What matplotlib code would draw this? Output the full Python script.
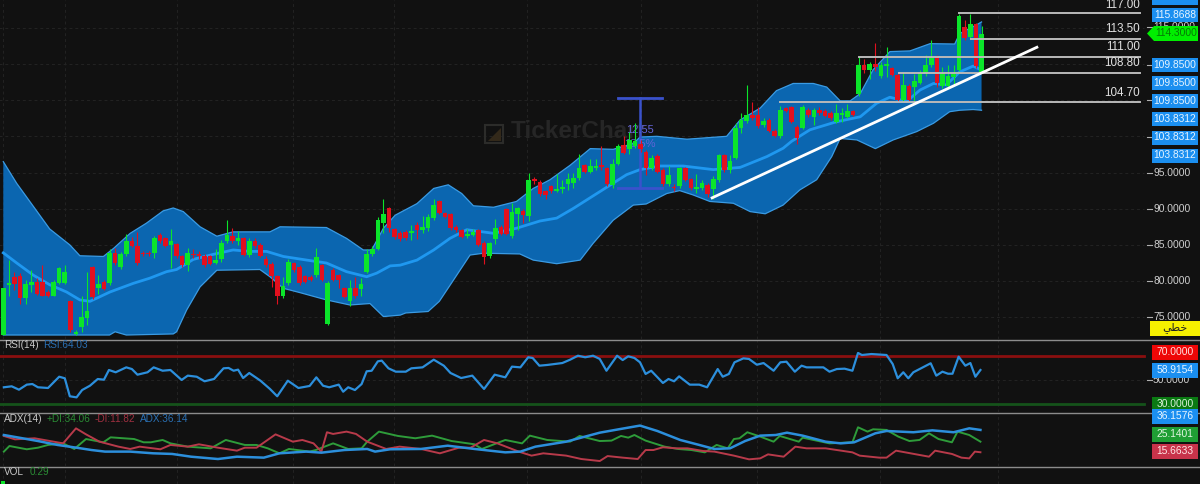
import matplotlib
matplotlib.use("Agg")
import matplotlib.pyplot as plt
from matplotlib.patches import Rectangle, Polygon

plt.rcParams['font.family'] = ['Liberation Sans', 'DejaVu Sans']

# candles, one row per ten bars
opens = [72.5,79.4,80.6,80.7,77.6,79.5,79.9,79.9,78.5,78.0,
    79.8,79.8,77.2,72.7,73.6,74.9,82.0,79.0,79.9,79.7,
    83.9,81.9,83.7,85.6,84.9,83.9,83.9,83.9,86.4,85.9,
    85.0,85.1,83.4,82.2,83.8,83.7,83.4,83.4,82.5,83.0,
    85.5,86.2,85.6,85.9,83.6,85.5,85.0,83.0,82.4,80.7,
    77.9,79.8,82.5,82.0,80.7,80.6,80.8,82.2,74.1,81.6,
    80.8,79.0,77.2,79.1,78.9,81.3,83.7,84.5,88.0,90.05,
    87.15,86.7,86.8,86.6,87.7,87.0,87.3,88.7,91.0,89.4,
    89.2,87.5,87.0,86.2,86.4,87.0,85.3,83.4,85.8,87.5,
    89.9,86.2,89.2,89.7,89.0,94.1,93.7,92.4,93.1,92.5,
    92.7,93.4,93.6,94.2,96.0,95.1,95.6,96.0,95.6,93.3,
    96.2,98.8,98.3,98.6,99.0,97.9,95.6,97.3,95.35,93.4,
    93.0,93.1,95.6,94.05,92.7,92.8,93.3,92.7,93.9,97.4,
    95.35,97.0,101.1,102.15,102.95,102.95,101.55,102.25,100.8,100.05,
    103.85,104.0,101.3,101.2,103.6,102.7,103.7,103.55,103.25,102.0,
    103.0,102.7,103.55,105.9,109.85,109.15,110.0,108.3,109.7,109.4,
    108.5,105.0,107.0,106.8,107.4,108.6,109.85,111.0,106.9,106.9,
    108.2,109.15,115.05,113.75,115.5,108.9]
highs = [79.0,82.9,81.3,81.1,80.1,81.5,80.4,82.2,78.7,80.2,
    82.0,82.2,77.4,73.2,77.9,81.2,82.1,80.8,80.1,84.4,
    84.6,84.0,86.5,86.1,86.8,84.2,84.2,86.2,86.6,86.1,
    87.2,85.3,83.6,84.6,84.5,84.2,83.8,83.6,84.5,85.7,
    88.4,87.4,86.9,86.1,85.9,86.0,85.2,83.4,82.6,80.9,
    80.6,83.0,82.7,82.2,80.9,80.8,84.6,82.4,80.0,81.8,
    81.0,79.2,80.2,80.6,80.4,84.4,84.8,88.8,91.3,90.3,
    87.4,86.9,87.0,87.8,88.1,89.0,89.2,91.3,91.2,89.6,
    89.4,87.7,87.2,87.2,87.2,87.2,85.5,85.4,88.6,87.7,
    90.1,90.8,90.3,89.9,94.9,94.4,93.9,92.6,93.3,94.8,
    93.9,95.0,95.0,97.6,96.2,96.9,96.8,98.6,95.8,96.8,
    99.0,100.0,100.6,101.9,99.5,98.1,97.4,97.5,95.6,95.9,
    93.4,95.8,95.8,94.3,94.8,93.9,93.5,94.5,97.6,97.6,
    97.4,101.9,103.2,107.1,104.8,104.0,102.5,102.5,101.0,104.2,
    104.1,104.2,101.5,104.3,103.9,103.9,104.0,103.8,103.5,104.4,
    103.9,104.5,103.7,110.9,110.7,110.2,112.9,110.2,112.4,109.6,
    108.7,108.9,107.2,108.6,109.2,111.3,113.3,111.2,109.6,109.8,
    109.8,116.9,116.0,116.9,115.7,115.2]
lows = [72.5,77.9,78.8,76.9,76.9,78.5,78.1,77.9,77.8,77.9,
    79.6,79.6,72.9,72.5,72.9,74.0,77.5,78.2,78.7,79.4,
    82.2,81.7,83.5,84.7,82.2,83.5,83.5,83.2,85.3,84.7,
    81.8,83.2,82.0,81.4,83.2,83.1,82.0,82.2,82.3,82.7,
    85.2,85.2,85.0,83.4,83.3,84.6,83.3,82.0,79.2,76.9,
    77.7,79.5,81.3,79.5,79.7,80.0,80.5,80.0,73.9,80.0,
    79.0,77.6,76.5,77.7,78.0,81.1,83.4,84.3,86.7,86.8,
    85.8,85.6,85.7,85.7,85.8,86.6,86.9,88.5,89.2,88.7,
    87.1,86.8,85.9,85.9,86.2,84.8,82.3,83.2,85.1,86.3,
    86.3,86.0,87.0,88.0,88.3,93.4,91.8,91.3,92.2,92.3,
    92.1,92.6,92.9,94.0,94.9,94.9,95.3,95.4,93.2,92.9,
    96.0,97.5,97.5,98.4,97.9,94.6,95.4,94.9,93.2,93.2,
    92.5,92.9,93.8,92.6,92.2,92.6,91.6,91.4,93.7,95.1,
    94.9,96.8,100.5,101.9,102.3,101.2,101.3,100.6,99.9,99.8,
    103.3,101.8,99.0,101.0,102.7,101.5,103.0,102.6,102.3,101.8,
    102.0,102.5,102.8,105.5,108.7,107.9,109.0,108.1,108.2,108.3,
    104.8,104.8,104.8,104.7,107.2,108.4,109.6,106.8,106.7,106.6,
    107.1,109.0,113.3,113.5,109.5,108.7]
closes = [79.0,79.8,79.6,77.6,79.6,79.9,78.2,78.0,78.0,79.9,
    81.8,81.2,73.2,73.0,75.1,75.8,77.8,79.6,78.9,83.9,
    82.5,83.7,85.5,84.9,82.5,83.8,83.8,86.0,85.5,84.9,
    85.5,83.4,82.2,83.9,83.6,83.5,82.2,82.4,82.9,85.3,
    86.4,85.5,86.0,83.6,85.6,84.85,83.5,82.2,80.7,77.9,
    79.3,82.7,81.5,79.7,79.9,80.2,83.3,80.2,79.8,80.2,
    80.2,77.8,79.1,77.9,79.6,83.8,84.4,88.5,89.3,87.4,
    86.05,85.8,85.9,86.95,87.0,87.5,88.8,90.5,89.4,88.9,
    87.3,87.0,86.05,86.5,86.8,85.0,83.3,85.2,87.3,86.5,
    86.5,89.6,90.05,89.1,94.0,93.8,92.0,91.9,92.45,92.7,
    93.0,94.05,94.2,95.6,95.1,95.9,95.9,95.7,93.4,96.2,
    98.7,97.7,99.5,99.3,98.3,95.6,97.0,95.1,93.4,94.65,
    92.8,95.6,94.0,92.8,93.05,93.5,92.05,94.05,97.4,95.35,
    96.6,101.1,102.25,102.95,102.5,101.4,102.15,100.8,100.05,103.65,
    103.55,102.0,99.7,104.1,102.95,103.6,103.2,102.8,102.5,103.2,
    103.25,103.55,102.95,109.85,109.15,109.95,109.6,109.85,109.95,108.5,
    105.0,107.1,105.0,107.65,108.8,109.85,110.8,107.4,108.8,108.3,
    108.6,116.6,113.55,115.5,109.7,114.2]

# bollinger bands, read at bar positions
upper_x = [0,2.4,5.4,8.3,10.1,11.9,13.7,17.9,19.7,22.7,25.6,28.6,30.4,32.2,35.2,38.2,41.1,47.7,49.5,57.8,
    61.4,64.4,65.9,68,70.1,74,77,79.6,82,84.1,87.7,91.8,94.8,97.8,101.4,105,109.1,112.7,113.9,116.9,
    122.3,129.4,131.8,135.4,138.3,141.3,144.9,147.3,149.7,151.5,153.3,155.6,158.6,162.2,165.8,170.2,171.1,174.1,175]
upper = [96.5,93.5,90.3,87.2,86.1,85.0,83.5,83.4,84.5,86.6,88.0,89.7,90.1,89.6,87.5,86.2,86.8,86.8,87.5,87.4,
    85.9,84.3,84.3,87.3,89.1,90.7,92.8,93.3,92.1,90.4,90.2,91.0,92.8,94.0,96.0,98.3,98.2,99.0,99.9,100.0,
    99.6,100.0,102.25,103.9,106.3,107.3,107.3,106.8,104.9,104.9,105.9,109.2,111.7,111.8,112.8,112.75,114.2,115.4,115.8]
mid_x = [0,2.4,5.4,8.3,11.3,13.7,15.5,19.1,23.3,26.2,29.2,31,34,37.6,41.1,44.1,47.1,50.1,54.3,57.8,61.4,65,66.8,69.2,71,
    74,77,79.9,82.9,87.7,91.8,96,99,102,106.7,111.5,113.9,117.5,121.6,127,131.8,136.6,139.5,141,144.3,149,153.3,
    156.2,158.6,161.6,164,166.4,168.7,171.1,173.5,175]
mid = [83.9,82.5,80.8,79.5,78.5,77.4,77.2,78.5,79.7,80.4,81.3,81.6,83.0,83.7,84.3,84.1,84.1,83.4,82.9,82.5,81.3,80.6,81.1,82.1,82.2,
    82.9,84.3,85.9,87.1,86.6,87.3,88.3,88.7,90.05,92.35,94.7,95.4,95.9,95.9,95.4,95.7,97.2,98.35,99.3,100.9,102.0,102.7,
    104.55,105.4,104.8,106.4,107.3,107.1,108.9,109.7,109.15]
lower_x = [0,19,20,22,30.4,31,32.8,35.2,38.2,45.9,47.7,50.1,53.1,57.8,62,65.6,68,71,72,76,78,80.5,83.5,85.9,92.4,94.8,99,103.2,
    105.5,109.1,112.7,115,118.7,121,123.4,126.4,130.6,133.6,136.3,139.5,142.5,145.5,148.2,149.7,152.7,156,159.2,163.4,166.4,169.3,171.1,173.5,175]
lower = [72.55,72.55,73.0,72.55,72.7,73.0,76.0,79.2,81.5,81.6,80.6,79.0,78.4,77.4,76.7,76.9,75.1,75.3,75.6,75.8,77.2,80.1,83.6,83.85,83.75,82.9,82.4,82.9,
    85.2,88.4,90.5,90.65,92.1,92.5,91.9,91.0,90.75,89.6,89.3,90.5,92.6,94.0,97.2,99.7,99.5,98.3,99.5,100.65,101.8,103.4,103.6,103.7,103.6]

# rsi
rsi_x = [0.1,1.5,2.8,4.2,5.2,6.2,8,10,11,11.9,13.1,14.1,15.5,16.9,18,18.9,20.1,22,23,24,25.8,26.9,28.5,29.9,31.9,33,34.6,36,37.7,39.4,
    40.3,41.2,42,42.9,44,46,47.7,49,50.9,52.8,54.8,56,57.2,58.3,60,60.8,61.7,62.9,64.1,65,65.9,67,67.7,68.9,70.2,72,73,75,77,78.8,
    80,81.9,83.9,86,87.9,89.8,91,92.5,93.9,94.7,95.9,97.3,100,101.4,102.8,104.1,105.5,106.7,107.9,109.8,110.8,111.8,112.9,113.9,114.9,115.9,118,119,120,120.9,
    122.8,124.5,125.9,127.8,128.7,129.8,130.8,132.4,133.4,134.8,136,137.8,139,140.1,141.6,142.8,143.7,146.7,147.8,149.1,150.5,151.9,152.9,153.6,155.3,158,159.1,160,161,161.9,
    162.8,165.9,166.9,168,169,169.8,170.9,172.1,173,173.9,174.8]
rsi = [43.9,44.7,41.9,46.1,46.6,43.9,43.3,52.7,51.4,36.4,35.5,41.6,45.2,50.8,50.2,58.3,56.4,60.5,59.1,54.4,56.4,60.5,57.7,58.3,50,53.6,52.7,48.9,50.8,59.7,
    60,57.7,58.6,51.6,55.8,49.4,42.5,36.4,49.4,43.3,45,52.2,45.2,43.9,46.1,40.2,43.9,41.6,46.6,57.2,57.7,65.5,66.1,59.7,56.9,56.9,59.7,60.5,66.9,61.9,
    55.8,51.6,53.6,42.5,54.4,52.2,61.1,60.5,68.9,68.3,61.9,62.5,64.1,66.9,70.2,68.9,70.2,67.5,57.7,70.2,66.6,69.7,68.3,64.7,55,57.7,47.5,50.8,48.9,53,
    46.1,46.1,43.9,59.1,52.7,55,64.7,68,67.5,62.7,64.1,57.7,64.7,65.2,56.9,61.9,60.5,60.5,56.9,59.1,59.4,57.7,72.5,70.8,71.6,70.8,63.3,51.4,56.4,51.4,
    56.4,63.9,53.6,56.9,55.2,55.2,69.4,61.9,64.1,52.7,58.3]

# adx and directional lines
adx_x = [0.1,2.8,6.2,9.7,13.1,15.8,18.2,22.7,26.8,30.2,33.6,38.4,41.8,46.6,49.4,54.2,56.9,61,65.1,66.5,69.2,74.7,79.5,84.3,89.8,92.5,95.2,100.7,106.7,
    110.1,113.9,117,121.1,124.5,127.2,130,132.7,135.4,138.2,140.2,143,147.1,149.8,152.2,156,158,162.8,166.2,170,172.8,174.8]
adx = [31.4,28.9,25.7,22,19.4,17.2,15.7,15.7,14.1,13.5,10.9,8.7,10.9,10,14.1,15.7,14.7,17.2,18.2,15.7,17.9,18.2,21.3,18.2,15,15.7,20.4,25.1,33.6,
    36.8,40.3,35.2,26.7,22,18.2,18.8,25.7,30.8,31.4,33.6,30.8,25.1,23.5,24.5,33,35.2,34,35.8,34,37.7,36.2]
plus_x = [0.1,1.1,4.2,6.2,8,10.7,12.7,14.8,17.9,19.2,23.4,25.1,26.4,28.5,29.9,33,37.1,39.8,43.2,45.3,47.3,49.4,51.1,54.8,55.9,59,61.7,64.1,65.1,67.2,
    70.6,73.7,76.7,80.2,84.3,85.6,89.8,92.8,94.2,97.3,101.4,103.1,106.7,108.8,110.5,111.8,112.9,114.9,118.3,120.7,123.1,125.5,127.6,129.6,130.7,131.7,133.1,135.4,137.8,138.9,
    142.3,143,147.8,151.9,152.9,154.6,155.6,158,160.1,162.1,163.9,165.6,167.3,169.7,170.7,172.8,174.8]
plus_di = [15.7,21,17.9,19.4,22,23.5,18.2,27.6,24.5,29.2,27.6,24.5,24.5,26.7,23.5,20.4,18.8,26.7,22,22,18.8,14.1,18.2,15.7,17.2,23.5,18.2,18.8,25.1,34.6,
    30.5,28.3,30.8,25.7,22.6,18.2,26.7,23.5,30.8,26.7,25.1,30.5,25.7,26.1,30.5,28.9,31.4,26.1,20.4,18.2,17.2,15,22,18.8,27.6,28.3,34,29.9,25.1,30.5,
    25.1,28.9,23.5,24.5,38.7,34.6,36.8,36.2,29.9,25.7,26.7,33,27.6,24.5,34.6,31.4,25.1]
minus_x = [0.1,2.1,5.6,10.7,13,14.8,17.2,20.6,22.7,24.4,28.1,29.9,33,35,38.4,41.8,43.2,45.3,48.7,51.8,53.5,55.5,56.9,57.9,59,61.4,63.1,65.1,68.5,70.9,
    74.7,78.1,81.5,83.6,86,88.4,92.2,94.5,96.6,100.7,103.4,106.7,108.1,110.8,113.5,114.9,116.3,118,120.4,122.4,125.2,127.2,130.7,133.4,135.4,136.8,139.6,141.7,143.7,147.1,
    151.9,153.2,156.7,158,159.7,165.6,166.7,169.7,171.4,172.8,173.8,174.8]
minus_di = [30.5,27.3,28.3,23.5,37.7,32,25.1,20.4,18.2,20.4,17.9,22,20.4,22.6,19.4,16.6,19.4,19.4,32,25.1,26.7,23.5,15.7,34,32.4,34.6,32.4,25.1,18.2,20.4,
    18.2,14.1,19.4,19.4,26.7,23.5,15.7,11.9,14.1,11.9,8.7,6.8,11.5,10,8.7,17.2,17.2,19.8,18.8,18.8,16.3,15.7,11.9,8.4,9.3,13.1,10.9,20.4,18.8,18.8,
    15,11.9,10,10,16.6,10.9,16.6,13.5,10,9.3,15.7,15.1]

vol_x = [0]
vol = [0.29]

# drawn levels: price, first bar
level_prices = [117.0, 113.5, 111.0, 108.8, 104.7]
level_starts = [171, 173.1, 153, 160.2, 139]
level_names = ['117.00', '113.50', '111.00', '108.80', '104.70']
trend_x = [126.8, 184.9]
trend_y = [91.5, 112.3]
span_bar = 113.9
span_top = 105.3
span_bottom = 92.86

price_ticks = [100, 95, 90, 85, 80, 75]
price_tick_names = ['95.0000', '90.0000', '85.0000', '80.0000', '75.0000']
price_chips = ['115.8688', '109.8500', '109.8500', '109.8500', '103.8312', '103.8312', '103.8312']
chip_rows = [15, 65, 83, 101, 119, 137.5, 155.5]
lower_chips = [('70.0000', 352, '#ee0606', '#ffe0e0'), ('58.9154', 370, '#1b8ff0', '#e6f4ff'),
               ('30.0000', 404, '#0a7a12', '#d8f0d8'), ('36.1576', 416, '#1b8ff0', '#e6f4ff'),
               ('25.1401', 434, '#1f9e34', '#e0f5e0'), ('15.6633', 451, '#c8334a', '#ffe6e6')]
v_grid_px = [3, 65, 177, 293, 394, 527, 641, 757, 880, 998]

BG = '#111111'
GRID = '#232323'
W, H = 1200, 484
bar0 = 3.3
bar_w = 5.59


def panel(top, bottom, ylim):
    ax = fig.add_axes([0, 1 - bottom / H, 1, (bottom - top) / H])
    ax.set_xlim(-bar0 / bar_w, (W - bar0) / bar_w)
    ax.set_ylim(*ylim)
    ax.set_facecolor(BG)
    ax.set_xticks([])
    ax.set_yticks([])
    for s in ax.spines.values():
        s.set_visible(False)
    for px in v_grid_px:
        ax.axvline((px - bar0) / bar_w, color=GRID, lw=0.7, ls=(0, (3, 3)), zorder=0)
    return ax


fig = plt.figure(figsize=(W / 100, H / 100), dpi=100, facecolor=BG)

# price panel
ax = panel(0, 339, (72.0, 118.83))
for p in [115, 110, 105, 100, 95, 90, 85, 80, 75]:
    ax.plot([-1, 204], [p, p], color=GRID, lw=0.7, ls=(0, (3, 3)), zorder=0)

ax.fill(upper_x + lower_x[::-1], upper + lower[::-1], color='#0b66b0', lw=0, zorder=1)
ax.plot(upper_x, upper, color='#3a9be4', lw=0.9, zorder=2, solid_joinstyle='round')
ax.plot(lower_x, lower, color='#3a9be4', lw=0.9, zorder=2, solid_joinstyle='round')
ax.plot(mid_x, mid, color='#1f98f0', lw=2, zorder=3, solid_joinstyle='round')

# blue measure tool sits under the candles
ax.plot([span_bar, span_bar], [span_bottom, span_top], color='#3a52cc', lw=1.8, zorder=3)
ax.plot([span_bar - 3.9, span_bar + 3.9], [span_top, span_top], color='#3a52cc', lw=2, zorder=3)
ax.plot([span_bar - 3.9, span_bar + 3.9], [span_bottom, span_bottom], color='#3a52cc', lw=2, zorder=3)
ax.text(span_bar, 100.9, '12.55', color='#6464d8', fontsize=8, ha='center', va='center', zorder=3)
ax.text(span_bar, 98.9, '13.5%', color='#6464d8', fontsize=8, ha='center', va='center', zorder=3)

xs = list(range(len(closes)))
colors = ['#0be52a' if c >= o else '#e2101e' for o, c in zip(opens, closes)]
ax.vlines(xs, lows, highs, colors=colors, lw=0.8, zorder=4)
ax.bar(xs, [c - o for o, c in zip(opens, closes)], bottom=opens, width=0.82, color=colors, lw=0, zorder=5)

for p, start in zip(level_prices, level_starts):
    ax.plot([start, 203.4], [p, p], color='#b9b9b9', lw=1.4, zorder=6)
ax.plot(trend_x, trend_y, color='#ffffff', lw=2, zorder=7)
for p, name in zip(level_prices, level_names):
    ax.text(203.3, min(p + 1.3, 118.1), name, color='#e0e0e0', fontsize=8.4, ha='right', va='center', zorder=8)

# watermark goes behind the band
ax.text(90.7, 100.7, 'TickerChart', color='#262626', fontsize=17.5, fontweight='bold', va='center', zorder=0.5)

# rsi panel
ax2 = panel(340, 412, (23.3, 83.3))
ax2.plot([-1, 204], [50, 50], color=GRID, lw=0.7, ls=(0, (3, 3)), zorder=0)
ax2.plot([-0.6, 204], [70, 70], color='#8a0f0f', lw=2, zorder=1)
ax2.plot([-0.6, 204], [30, 30], color='#15531a', lw=2, zorder=1)
ax2.plot(rsi_x, rsi, color='#2c8fdc', lw=1.6, zorder=2)

# adx panel
ax3 = panel(413, 466, (2.1, 52.2))
ax3.plot(plus_x, plus_di, color='#2e9c3a', lw=1.4, zorder=2)
ax3.plot(minus_x, minus_di, color='#b83a4a', lw=1.4, zorder=2)
ax3.plot(adx_x, adx, color='#2c8fdc', lw=1.8, zorder=3)

# volume
ax4 = panel(467, 484, (0, 1.6))
ax4.bar(vol_x, vol, width=0.72, color='#0be52a', lw=0)

# overlay in pixels for the scale chips and panel titles
ov = fig.add_axes([0, 0, 1, 1], facecolor='none')
ov.set_xlim(0, W)
ov.set_ylim(H, 0)
ov.axis('off')

for y in [339.5, 412.5, 466.5]:
    ov.plot([0, W], [y, y], color='#8c8c8c', lw=1)

# watermark logo
ov.add_patch(Rectangle((485, 125), 18, 18, fc='none', ec='#2c2c2a', lw=1.5, zorder=0.5))
ov.add_patch(Polygon([(488, 141), (501, 141), (501, 128)], fc='#33291a', lw=0, zorder=0.5))

for p, y in zip(price_ticks + [115, 110, 105], [137, 172.5, 208.5, 245, 281, 317, 27, 65, 100]):
    ov.plot([1147, 1152], [y, y], color='#b0b0b0', lw=0.8)
for name, y in zip(price_tick_names, [172.5, 208.5, 245, 281, 317]):
    ov.text(1153, y, name, color='#cfcfcf', fontsize=7.4, va='center')
ov.text(1153, 27, '115.0000', color='#cfcfcf', fontsize=7.4, va='center')
ov.plot([1147, 1152], [380, 380], color='#b0b0b0', lw=0.8)
ov.text(1153, 380, '50.0000', color='#cfcfcf', fontsize=7.4, va='center')

ov.add_patch(Rectangle((1152, 0), 46, 5, fc='#1b8ff0', lw=0, zorder=3))
for name, y in zip(price_chips, chip_rows):
    ov.add_patch(Rectangle((1152, y - 7), 46, 14, fc='#1b8ff0', lw=0, zorder=3))
    ov.text(1175, y, name, color='#e6f4ff', fontsize=7.4, ha='center', va='center', zorder=4)
ov.add_patch(Polygon([(1147, 33.5), (1154, 26), (1198, 26), (1198, 41), (1154, 41)], fc='#00ee00', lw=0, zorder=3))
ov.text(1176, 33.5, '114.3000', color='#067a06', fontsize=7.4, ha='center', va='center', zorder=4)

for name, y, fc, tc in lower_chips:
    ov.add_patch(Rectangle((1152, y - 7.5), 46, 15, fc=fc, lw=0, zorder=3))
    ov.text(1175, y, name, color=tc, fontsize=7.4, ha='center', va='center', zorder=4)

# arabic label: matplotlib does not join letters, so presentation forms in visual order
ov.add_patch(Rectangle((1150, 321), 50, 15, fc='#f6f000', lw=0, zorder=3))
ov.text(1175, 328, '\ufef2\ufec4\ufea7', color='#222222', fontsize=8, ha='center', va='center', zorder=4)

ov.text(4, 345, 'RSI(14)', color='#c8c8c8', fontsize=7.2, va='center')
ov.text(43, 345, 'RSI:64.03', color='#2a70b4', fontsize=7.2, va='center')
ov.text(4, 418.5, 'ADX(14)', color='#c8c8c8', fontsize=7.2, va='center')
ov.text(46.5, 418.5, '+DI:34.06', color='#2a8c34', fontsize=7.2, va='center')
ov.text(94.5, 418.5, '-DI:11.82', color='#a03040', fontsize=7.2, va='center')
ov.text(140, 418.5, 'ADX:36.14', color='#2a70b4', fontsize=7.2, va='center')
ov.text(4, 472, 'VOL', color='#c8c8c8', fontsize=7.2, va='center')
ov.text(30, 472, '0.29', color='#2a8c34', fontsize=7.2, va='center')

fig.savefig('out.png', dpi=100, facecolor=BG)
